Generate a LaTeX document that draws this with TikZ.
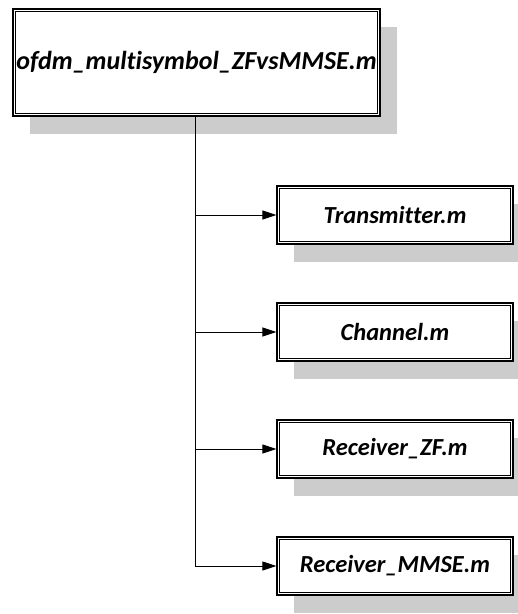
\documentclass[tikz,border=0pt]{standalone}
\usepackage{fontspec}
\setmainfont[Ligatures=NoCommon]{Carlito}
\usetikzlibrary{arrows.meta,shadows}
\tikzset{
  filebox/.style={draw, line width=1.3pt, fill=white, inner sep=0pt,
    font=\bfseries\itshape,
    drop shadow={shadow xshift=17pt, shadow yshift=-18pt, fill=gray!40, opacity=1}},
  mainbox/.style={filebox, minimum width=367pt, minimum height=107pt, font=\fontsize{26}{31}\selectfont\bfseries\itshape},
  subbox/.style={filebox, minimum width=236pt, minimum height=58pt, font=\fontsize{24.5}{29}\selectfont\bfseries\itshape},
  conn/.style={line width=1pt},
  arr/.style={conn, -{Triangle[length=14pt,width=9pt]}}
}
\begin{document}
\begin{tikzpicture}[x=1pt,y=-1pt]
\useasboundingbox (0,0) rectangle (518,614);
\clip (0,0) rectangle (518,614);
\node[mainbox] (main) at (196.5,62.5) {ofdm\_multisymbol\_ZFvsMMSE.m};
\node[subbox] (tx) at (395,215) {Transmitter.m};
\node[subbox] (ch) at (395,332) {Channel.m};
\node[subbox] (zf) at (395,449) {Receiver\_ZF.m};
\node[subbox] (mmse) at (395,566) {Receiver\_MMSE.m};
\foreach \n in {main,tx,ch,zf,mmse}
  \draw[line width=0.6pt] ([shift={(3,3)}]\n.north west) rectangle ([shift={(-3,-3)}]\n.south east);
\coordinate (top) at ([xshift=-1.5pt]main.south);
\draw[conn] (top) -- (top |- mmse.west);
\draw[arr] (top |- tx.west) -- (tx.west);
\draw[arr] (top |- ch.west) -- (ch.west);
\draw[arr] (top |- zf.west) -- (zf.west);
\draw[arr] (top |- mmse.west) -- (mmse.west);
\end{tikzpicture}
\end{document}
